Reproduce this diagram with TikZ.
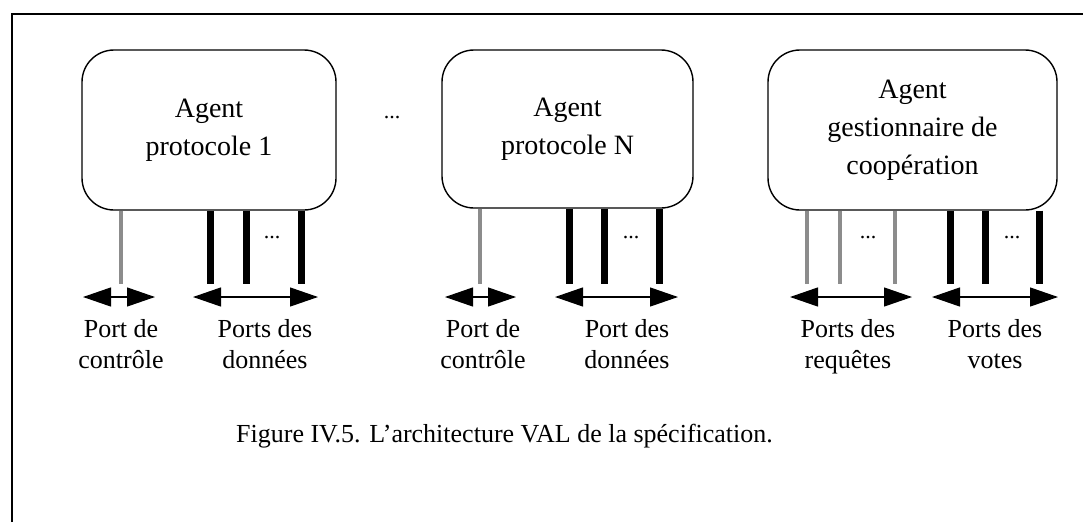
\documentclass[tikz,border=0pt]{standalone}
\usepackage{fontspec}
\setmainfont{Liberation Serif}
\usetikzlibrary{arrows.meta}
\begin{document}
\begin{tikzpicture}[x=1pt,y=-1pt,
  agent/.style={draw, line width=1.4pt, rounded corners=32pt, align=center,
    font=\fontsize{28}{38}\selectfont, inner sep=0pt},
  lbl/.style={align=center, font=\fontsize{26}{31}\selectfont, inner sep=0pt, anchor=north},
  gport/.style={line width=4.5pt, draw=black!45},
  bport/.style={line width=7pt, draw=black},
  dblarrow/.style={line width=1.2pt, {Triangle[length=28pt,width=19pt]}-{Triangle[length=28pt,width=19pt]}},
  dots/.style={font=\fontsize{22}{26}\selectfont, inner sep=0pt}
]
\useasboundingbox (0,0) rectangle (1083,522);
\draw[line width=2.6pt] (12,522) -- (12,14) -- (1083,14);

\node[agent, minimum width=254pt, minimum height=160pt] (b1) at (209,130) {Agent\\protocole 1};
\node[agent, minimum width=251pt, minimum height=158pt] (b2) at (567.5,129) {Agent\\protocole N};
\node[agent, minimum width=289pt, minimum height=160pt] (b3) at (912.5,130) {Agent\\gestionnaire de\\coopération};
\node[dots] (d0) at (392,118) {...};

% port line ends
\foreach \n/\x in {g1/121, k1/210, k2/246, k3/301, g2/480, k4/569, k5/604, k6/659,
                   g3/807, g4/840, g5/895, k7/950, k8/985, k9/1039}
  \coordinate (\n) at (\x,284);

\draw[gport] (g1 |- b1.south) -- (g1);
\foreach \n in {k1,k2,k3} \draw[bport] (\n |- b1.south) -- (\n);
\draw[gport] (g2 |- b2.south) -- (g2);
\foreach \n in {k4,k5,k6} \draw[bport] (\n |- b2.south) -- (\n);
\foreach \n in {g3,g4,g5} \draw[gport] (\n |- b3.south) -- (\n);
\foreach \n in {k7,k8,k9} \draw[bport] (\n |- b3.south) -- (\n);

\node[dots] (d1) at (272,238) {...};
\node[dots] (d2) at (631,238) {...};
\node[dots] (d3) at (868,238) {...};
\node[dots] (d4) at (1012,238) {...};

% arrows
\foreach \n/\a/\b in {a1/83/155, a2/193/318, a3/445/516, a4/555/678, a5/790/912, a6/932/1058}{
  \coordinate (\n l) at (\a,297);
  \coordinate (\n r) at (\b,297);
  \draw[dblarrow] (\n l) -- (\n r);
}

\node[lbl] (l1) at (121,319) {Port de\\contrôle};
\node[lbl] (l2) at (265,319) {Ports des\\données};
\node[lbl] (l3) at (483,319) {Port de\\contrôle};
\node[lbl] (l4) at (627,319) {Port des\\données};
\node[lbl] (l5) at (848,319) {Ports des\\requêtes};
\node[lbl] (l6) at (995,319) {Ports des\\votes};

\node[lbl, anchor=west] (cap) at (236,436) {Figure IV.5. L'architecture VAL de la spécification.};
\end{tikzpicture}
\end{document}
